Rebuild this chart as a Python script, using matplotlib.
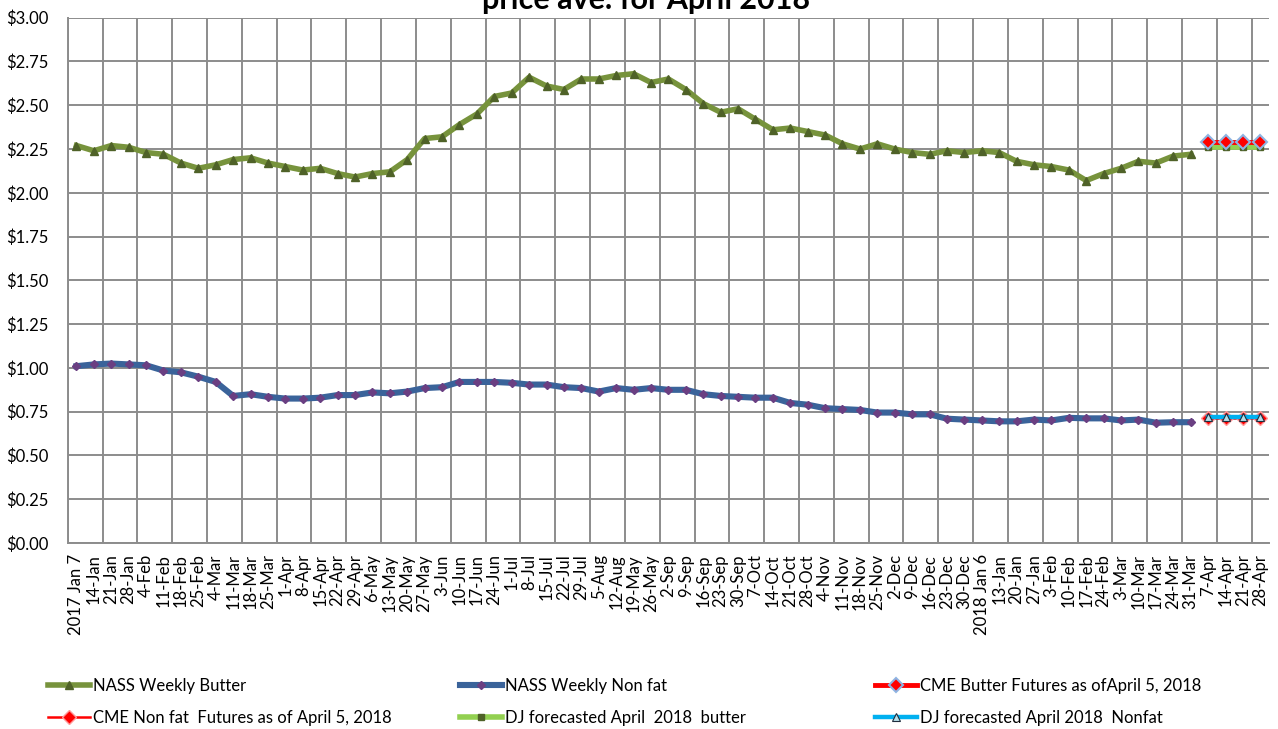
import matplotlib
matplotlib.use("Agg")
import matplotlib.pyplot as plt
import numpy as np
from matplotlib.ticker import FuncFormatter, FixedLocator

plt.rcParams['font.family'] = ['Lato', 'DejaVu Sans']

categories = ["2017 Jan 7", "14-Jan", "21-Jan", "28-Jan", "4-Feb", "11-Feb", "18-Feb", "25-Feb",
              "4-Mar", "11-Mar", "18-Mar", "25-Mar", "1-Apr", "8-Apr", "15-Apr", "22-Apr",
              "29-Apr", "6-May", "13-May", "20-May", "27-May", "3-Jun", "10-Jun", "17-Jun",
              "24-Jun", "1-Jul", "8-Jul", "15-Jul", "22-Jul", "29-Jul", "5-Aug", "12-Aug",
              "19-May", "26-May", "2-Sep", "9-Sep", "16-Sep", "23-Sep", "30-Sep", "7-Oct",
              "14-Oct", "21-Oct", "28-Oct", "4-Nov", "11-Nov", "18-Nov", "25-Nov", "2-Dec",
              "9-Dec", "16-Dec", "23-Dec", "30-Dec", "2018 Jan 6", "13-Jan", "20-Jan", "27-Jan",
              "3-Feb", "10-Feb", "17-Feb", "24-Feb", "3-Mar", "10-Mar", "17-Mar", "24-Mar",
              "31-Mar", "7-Apr", "14-Apr", "21-Apr", "28-Apr"]

nass_butter = [2.27, 2.24, 2.27, 2.26, 2.23, 2.22, 2.17, 2.14, 2.16, 2.19, 2.20, 2.17, 2.15,
               2.13, 2.14, 2.11, 2.09, 2.11, 2.12, 2.19, 2.31, 2.32, 2.39, 2.45, 2.55, 2.57,
               2.66, 2.61, 2.59, 2.65, 2.65, 2.67, 2.68, 2.63, 2.65, 2.59, 2.51, 2.46, 2.48,
               2.42, 2.36, 2.37, 2.35, 2.33, 2.28, 2.25, 2.28, 2.25, 2.23, 2.22, 2.24, 2.23,
               2.24, 2.23, 2.18, 2.16, 2.15, 2.13, 2.07, 2.11, 2.14, 2.18, 2.17, 2.21, 2.22,
               None, None, None, None]

nass_nonfat = [1.01, 1.02, 1.025, 1.02, 1.015, 0.985, 0.975, 0.95, 0.92, 0.84, 0.85, 0.835,
               0.825, 0.825, 0.83, 0.845, 0.845, 0.86, 0.855, 0.865, 0.885, 0.89, 0.92, 0.92,
               0.92, 0.915, 0.905, 0.905, 0.89, 0.885, 0.865, 0.885, 0.875, 0.885, 0.875,
               0.875, 0.85, 0.84, 0.835, 0.83, 0.83, 0.80, 0.79, 0.77, 0.765, 0.76, 0.745,
               0.745, 0.735, 0.735, 0.71, 0.705, 0.70, 0.695, 0.695, 0.705, 0.70, 0.715,
               0.712, 0.712, 0.70, 0.705, 0.687, 0.69, 0.69,
               None, None, None, None]

cme_butter = [None] * 65 + [2.29, 2.29, 2.29, 2.29]
cme_nonfat = [None] * 65 + [0.712, 0.712, 0.712, 0.712]
dj_butter = [None] * 65 + [2.26, 2.26, 2.26, 2.26]
dj_nonfat = [None] * 65 + [0.72, 0.72, 0.72, 0.72]

labels = ["NASS Weekly Butter", "NASS Weekly Non fat", "CME Butter Futures as ofApril 5, 2018",
          "CME Non fat  Futures as of April 5, 2018", "DJ forecasted April  2018  butter",
          "DJ forecasted April 2018  Nonfat"]


def arr(v):
    return np.array([np.nan if a is None else a for a in v], dtype=float)


fig = plt.figure(figsize=(12.78, 7.29), dpi=100)
ax = fig.add_axes([0.053, 0.2551, 0.940, 0.7206])
x = np.arange(len(categories))

h0, = ax.plot(x, arr(nass_butter), color='#77933C', lw=4.0, marker='^', ms=6,
              mfc='#4F6228', mec='#4F6228', zorder=5)
h1, = ax.plot(x, arr(nass_nonfat), color='#3A639A', lw=4.4, marker='D', ms=4,
              mfc='#6A3F82', mec='#6A3F82', zorder=5)
h4, = ax.plot(x, arr(dj_butter), color='#92D050', lw=4.0, marker='s', ms=4,
              mfc='#4F6228', mec='#4F6228', zorder=6)
h2, = ax.plot(x, arr(cme_butter), color='#FF0000', lw=3.5, marker='D', ms=7.5,
              mfc='#FF0000', mec='#8EB4E3', mew=1.5, zorder=7)
h3, = ax.plot(x, arr(cme_nonfat), color='#FF0000', lw=1.8, marker='D', ms=7.5,
              mfc='#FF0000', mec='#FF9999', mew=1.0, zorder=7)
h5, = ax.plot(x, arr(dj_nonfat), color='#00B0F0', lw=3.2, marker='^', ms=5.5,
              mfc='#B7DEE8', mec='#1F2D3D', mew=0.8, zorder=8)

ax.set_xlim(-0.5, len(categories) - 0.5)
ax.set_ylim(0, 3.0)
ax.set_yticks(np.arange(0, 3.01, 0.25))
ax.yaxis.set_major_formatter(FuncFormatter(lambda v, p: "${:.2f}".format(v)))
ax.set_xticks(x)
ax.set_xticklabels(categories, rotation=90, fontsize=12)
ax.tick_params(axis='both', length=0, labelsize=12, colors='black')
ax.tick_params(axis='x', pad=8)
ax.tick_params(axis='y', pad=14)

# gridlines
ax.xaxis.set_minor_locator(FixedLocator(np.arange(-0.5, len(categories), 2.0)))
ax.grid(True, which='minor', axis='x', color='#8C8C8C', lw=1.4)
ax.grid(True, which='major', axis='y', color='#8C8C8C', lw=1.4)
ax.tick_params(axis='x', which='minor', length=0)
ax.set_axisbelow(True)
for s in ['top', 'right']:
    ax.spines[s].set_visible(False)
for s in ['left', 'bottom']:
    ax.spines[s].set_color('#8C8C8C')
    ax.spines[s].set_linewidth(1.4)

fig.text(646 / 1278, 1 - 9 / 729, "price ave. for April 2018", ha='center', va='baseline',
         fontsize=22, fontweight='bold')

columns = [([h0, h3], [labels[0], labels[3]], 48),
           ([h1, h4], [labels[1], labels[4]], 460),
           ([h2, h5], [labels[2], labels[5]], 875)]
for hs, ls, xpix in columns:
    leg = fig.legend(hs, ls, loc='upper left', bbox_to_anchor=(xpix / 1278, 1 - 678 / 729),
                     ncol=1, frameon=False, fontsize=12, handlelength=2.5, handletextpad=0.2,
                     labelspacing=0.95, borderpad=0, borderaxespad=0)

fig.savefig("out.png", dpi=100)
